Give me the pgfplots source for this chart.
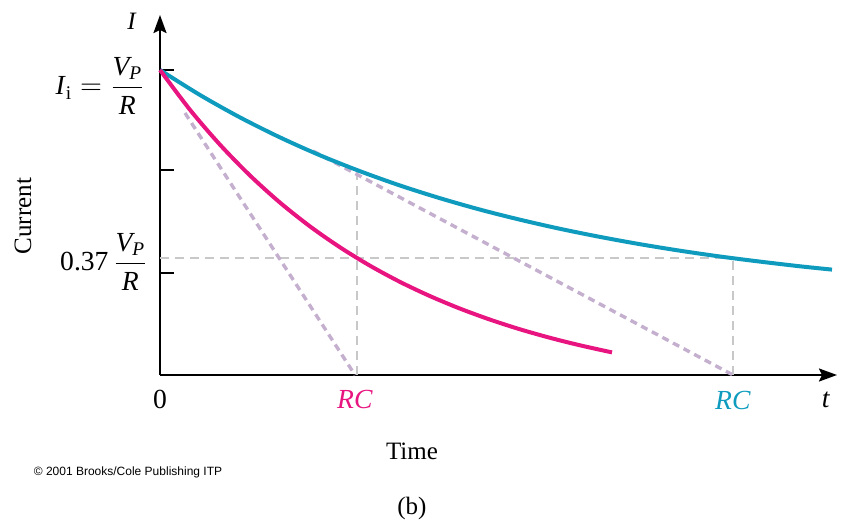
\documentclass[border=0pt]{standalone}
\usepackage{amsmath}
\usepackage{pgfplots}
\pgfplotsset{compat=1.18}
\usetikzlibrary{arrows.meta}
\usepackage{fontspec}
\setmainfont{Liberation Serif}
\newfontfamily\cpfont{Liberation Sans}
\definecolor{pinkc}{RGB}{232,20,128}
\definecolor{bluec}{RGB}{14,155,190}
\definecolor{lavc}{RGB}{196,176,206}
\definecolor{grayc}{RGB}{200,200,200}
\newcommand\lab{\fontsize{12.5}{14}\selectfont}
\newcommand\tlab{\fontsize{13.8}{15}\selectfont}
\begin{document}
\begin{tikzpicture}
\begin{axis}[
  x=0.5pt, y=0.5pt,
  xmin=0, xmax=677, ymin=0, ymax=360,
  axis lines=left,
  axis line style={line width=1pt, -{Stealth[length=9pt,width=6.5pt,inset=1.5pt]}},
  xtick=\empty,
  ytick={305,205,102},
  yticklabels={},
  tick align=inside,
  major tick length=7pt,
  tick style={line width=1pt, black},
  clip=false,
]
% invisible frame for the page size
\path (axis cs:-160,-145) rectangle (axis cs:697,375);
% reference dashed lines
\addplot[grayc, line width=0.8pt, dash pattern=on 4.5pt off 3pt] coordinates {(0,117) (573,117)};
\addplot[grayc, line width=0.8pt, dash pattern=on 4.5pt off 3pt] coordinates {(197,0) (197,204)};
\addplot[grayc, line width=0.8pt, dash pattern=on 4.5pt off 3pt] coordinates {(573,0) (573,117)};
% tangent lines
\addplot[lavc, line width=1.7pt, dash pattern=on 3.5pt off 2.5pt] coordinates {(25,262) (195,0)};
\addplot[lavc, line width=1.7pt, dash pattern=on 3.5pt off 2.5pt] coordinates {(153,224) (573,0)};
% blue curve
\addplot[bluec, line width=2pt, smooth] coordinates {
(0,305) (40,280) (80,257.6) (120,237.6) (160,219.7) (200,203.8) (240,189.5)
(280,176.8) (320,165.4) (360,155.3) (400,146.2) (440,138.1) (480,130.8)
(520,124.3) (560,118.5) (600,113.4) (640,108.7) (672,105.4)};
% pink curve
\addplot[pinkc, line width=2pt, smooth] coordinates {
(0,305) (30,265.2) (60,230.3) (90,199.5) (120,172.4) (150,148.6) (180,127.7)
(210,109.3) (240,93.1) (270,78.9) (300,66.4) (330,55.4) (360,45.7)
(390,37.2) (420,29.7) (452,22.6)};
% labels
\node[font=\lab] at (axis cs:-28,354) {\textit{I}};
\node[font=\tlab, anchor=east, inner sep=0pt] at (axis cs:-15,289)
  {\textit{I}$_{\text{i}}=\displaystyle\frac{\text{\itshape V}_{\text{\itshape P}}}{\text{\itshape R}}$};
\node[font=\tlab, anchor=east, inner sep=0pt] at (axis cs:-12,113)
  {0.37\,$\displaystyle\frac{\text{\itshape V}_{\text{\itshape P}}}{\text{\itshape R}}$};
\node[font=\tlab] at (axis cs:0,-24) {0};
\node[font=\tlab, text=pinkc] at (axis cs:195,-24) {\textit{RC}};
\node[font=\tlab, text=bluec] at (axis cs:573,-25) {\textit{RC}};
\node[font=\tlab] at (axis cs:666,-25) {\textit{t}};
\node[font=\lab, rotate=90] at (axis cs:-137,159) {Current};
\node[font=\lab] at (axis cs:252,-76) {Time};
\node[font=\lab] at (axis cs:252,-133) {(b)};
\node[font=\cpfont\fontsize{6.0}{7}\selectfont] at (axis cs:-32,-97) {\textcopyright\ 2001 Brooks/Cole Publishing ITP};
\end{axis}
\end{tikzpicture}
\end{document}
